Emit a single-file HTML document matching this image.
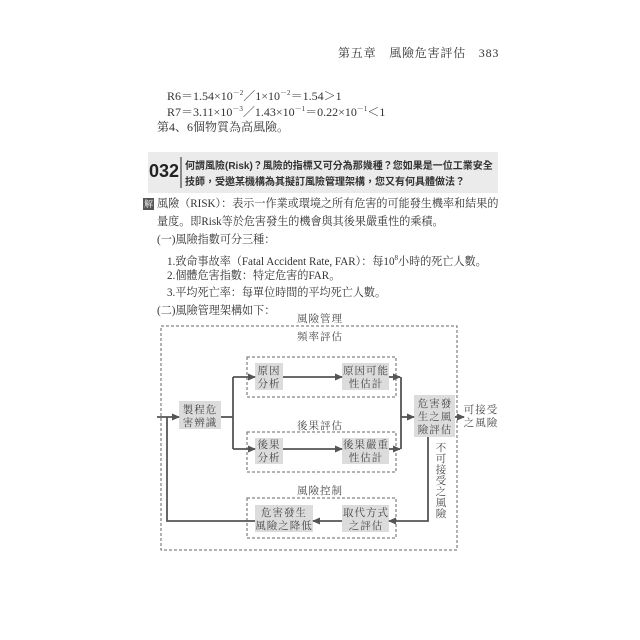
<!DOCTYPE html>
<html><head><meta charset="utf-8"><style>
body{margin:0;background:#fff;width:640px;height:640px;position:relative;overflow:hidden;font-family:"Liberation Serif","Noto Serif CJK SC","Noto Sans CJK TC",serif;color:#333}
.t{position:absolute;white-space:nowrap;font-size:11.1px;line-height:14px}
.s{font-family:"Liberation Sans","Noto Sans CJK TC",sans-serif}
sup{font-size:7px;vertical-align:5px}
</style></head><body>
<div class="t" style="left:338px;top:46px;font-size:12px;letter-spacing:0.8px">第五章　風險危害評估　383</div>
<div class="t" style="left:167px;top:86px;font-size:12px">R6＝1.54×10<sup>－2</sup>／1×10<sup>－2</sup>＝1.54＞1</div>
<div class="t" style="left:167px;top:102px;font-size:12px">R7＝3.11×10<sup>－3</sup>／1.43×10<sup>－1</sup>＝0.22×10<sup>－1</sup>＜1</div>
<div class="t" style="left:157px;top:120px;font-size:12px">第4、6個物質為高風險。</div>

<div style="position:absolute;left:148px;top:152px;width:350px;height:41px;background:#ebebeb"></div>
<div class="t s" style="left:149px;top:161px;font-size:18px;line-height:20px;font-weight:bold;color:#222">032</div>
<div style="position:absolute;left:180px;top:157px;width:1.5px;height:31px;background:#888"></div>
<div class="t s" style="left:185px;top:160px;font-size:10px;font-weight:bold;color:#333">何謂風險(Risk)？風險的指標又可分為那幾種？您如果是一位工業安全</div>
<div class="t s" style="left:185px;top:176px;font-size:10px;font-weight:bold;color:#333">技師，受邀某機構為其擬訂風險管理架構，您又有何具體做法？</div>

<div style="position:absolute;left:143px;top:198px;width:11px;height:12px;background:#555;color:#fff;font-size:9px;line-height:12px;text-align:center">解</div>
<div class="t" style="left:157px;top:197px">風險（RISK）：表示一作業或環境之所有危害的可能發生機率和結果的</div>
<div class="t" style="left:157px;top:215px">量度。即Risk等於危害發生的機會與其後果嚴重性的乘積。</div>
<div class="t" style="left:157px;top:233px">(一)風險指數可分三種：</div>
<div class="t" style="left:167px;top:251px">1.致命事故率（Fatal Accident Rate, FAR）：每10<sup>8</sup>小時的死亡人數。</div>
<div class="t" style="left:167px;top:269px">2.個體危害指數：特定危害的FAR。</div>
<div class="t" style="left:167px;top:286px">3.平均死亡率：每單位時間的平均死亡人數。</div>
<div class="t" style="left:157px;top:304px">(二)風險管理架構如下：</div>

<svg style="position:absolute;left:0;top:0" width="640" height="640" font-family="Liberation Serif,Noto Serif CJK SC,serif" font-size="10.5" fill="#444">
<defs><marker id="a" markerWidth="8" markerHeight="8" refX="7" refY="4" orient="auto" markerUnits="userSpaceOnUse"><path d="M0,0.5 L8,4 L0,7.5 Z" fill="#555"/></marker></defs>
<g fill="none" stroke="#666" stroke-width="1" stroke-dasharray="3,2">
<rect x="161" y="326" width="296" height="224"/>
<rect x="247" y="357" width="149" height="40"/>
<rect x="247" y="432" width="149" height="40"/>
<rect x="247" y="498" width="149" height="40"/>
</g>
<g fill="#dcdcdc">
<rect x="179" y="401" width="42" height="28"/>
<rect x="255" y="363" width="28" height="27"/>
<rect x="342" y="363" width="47" height="27"/>
<rect x="255" y="438" width="28" height="26"/>
<rect x="342" y="438" width="47" height="26"/>
<rect x="414" y="395" width="41" height="42"/>
<rect x="255" y="505" width="58" height="27"/>
<rect x="342" y="505" width="47" height="27"/>
</g>
<g stroke="#555" stroke-width="1.8" fill="none">
<path d="M157,417 H179" marker-end="url(#a)"/>
<path d="M221,417 H233"/>
<path d="M233,377 V449"/>
<path d="M233,377 H255" marker-end="url(#a)"/>
<path d="M233,449 H255" marker-end="url(#a)"/>
<path d="M283,377 H342" marker-end="url(#a)"/>
<path d="M283,449 H342" marker-end="url(#a)"/>
<path d="M389,377 H400" marker-end="url(#a)"/>
<path d="M389,449 H400" marker-end="url(#a)"/>
<path d="M401,377 V449"/>
<path d="M401,417 H414" marker-end="url(#a)"/>
<path d="M455,417 H464" marker-end="url(#a)"/>
<path d="M428,437 V521 H389" marker-end="url(#a)"/>
<path d="M342,521 H313" marker-end="url(#a)"/>
<path d="M255,521 H167 V417"/>
</g>
<g text-anchor="middle" letter-spacing="1">
<text x="320" y="322">風險管理</text>
<text x="320" y="340">頻率評估</text>
<text x="320" y="429">後果評估</text>
<text x="320" y="494">風險控制</text>
<text x="200" y="413">製程危</text><text x="200" y="426">害辨識</text>
<text x="269" y="374">原因</text><text x="269" y="387">分析</text>
<text x="366" y="374">原因可能</text><text x="366" y="387">性估計</text>
<text x="269" y="448">後果</text><text x="269" y="461">分析</text>
<text x="366" y="448">後果嚴重</text><text x="366" y="461">性估計</text>
<text x="435" y="407">危害發</text><text x="435" y="420">生之風</text><text x="435" y="433">險評估</text>
<text x="284" y="516">危害發生</text><text x="284" y="529">風險之降低</text>
<text x="366" y="516">取代方式</text><text x="366" y="529">之評估</text>
<text x="481" y="413">可接受</text><text x="481" y="426">之風險</text>
</g>
<g text-anchor="middle">
<text x="441" y="451">不</text><text x="441" y="462">可</text><text x="441" y="473">接</text><text x="441" y="484">受</text><text x="441" y="495">之</text><text x="441" y="506">風</text><text x="441" y="517">險</text>
</g>
</svg>
</body></html>
